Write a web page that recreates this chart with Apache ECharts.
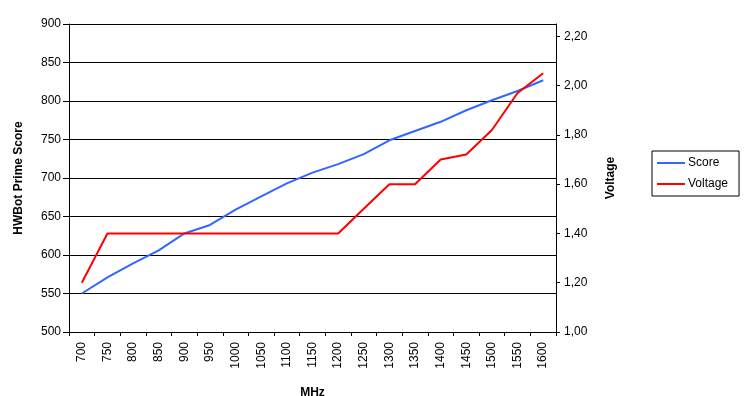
<!DOCTYPE html>
<html>
<head>
<meta charset="utf-8">
<script src="https://cdn.jsdelivr.net/npm/echarts@6/dist/echarts.min.js"></script>
<style>
html,body{margin:0;padding:0;background:#fff;}
#chart{width:745px;height:396px;}
</style>
</head>
<body>
<div id="chart"></div>
<script>
const categories = ['700','750','800','850','900','950','1000','1050','1100','1150','1200','1250','1300','1350','1400','1450','1500','1550','1600'];
const scoreValues = [550,571,589,606,628,639,659,676,693,707,718,731,749,761,773,788,801,813,827];
const voltageValues = [1.20,1.40,1.40,1.40,1.40,1.40,1.40,1.40,1.40,1.40,1.40,1.50,1.60,1.60,1.70,1.72,1.82,1.97,2.05];
const voltageTicks = [1.0,1.2,1.4,1.6,1.8,2.0,2.2];

const font = 'Liberation Sans, Arial, sans-serif';
const chart = echarts.init(document.getElementById('chart'), null, {renderer:'canvas'});
chart.setOption({
  animation:false,
  backgroundColor:'#fff',
  textStyle:{fontFamily:font},
  grid:{left:69, right:189, top:24, bottom:64, containLabel:false, outerBoundsMode:'none'},
  legend:{
    orient:'vertical', left:652, top:151,
    data:['Score','Voltage'],
    icon:'rect', itemWidth:28, itemHeight:2, itemGap:9,
    padding:[6,11,6,5],
    borderColor:'#000', borderWidth:1, backgroundColor:'#fff',
    textStyle:{fontFamily:font, fontSize:12, color:'#000', padding:[0,0,0,-2]}
  },
  xAxis:{
    type:'category', data:categories, boundaryGap:true,
    name:'MHz', nameLocation:'middle', nameGap:55,
    nameTextStyle:{fontFamily:font, fontSize:12, fontWeight:'bold', color:'#000'},
    axisLine:{lineStyle:{color:'#000', width:1}},
    axisTick:{show:true, alignWithLabel:false, length:4, lineStyle:{color:'#000'}},
    axisLabel:{rotate:90, interval:0, margin:10, fontSize:12, color:'#000', fontFamily:font},
    splitLine:{show:false}
  },
  yAxis:[{
    type:'value', min:500, max:900, interval:50, position:'left',
    name:'HWBot Prime Score', nameLocation:'middle', nameRotate:90, nameGap:44,
    nameTextStyle:{fontFamily:font, fontSize:12, fontWeight:'bold', color:'#000'},
    axisLine:{show:true, lineStyle:{color:'#000', width:1}},
    axisTick:{show:true, length:6, lineStyle:{color:'#000'}},
    axisLabel:{margin:8, fontSize:12, color:'#000', fontFamily:font},
    splitLine:{show:true, lineStyle:{color:'#000', width:1}}
  },{
    type:'value', min:1, max:2.25, position:'right',
    name:'Voltage', nameLocation:'middle', nameRotate:90, nameGap:49,
    nameTextStyle:{fontFamily:font, fontSize:12, fontWeight:'bold', color:'#000'},
    axisLine:{show:true, lineStyle:{color:'#000', width:1}},
    axisTick:{show:true, length:4, customValues:voltageTicks, lineStyle:{color:'#000'}},
    axisLabel:{margin:8, fontSize:12, color:'#000', fontFamily:font, customValues:voltageTicks,
      formatter:v=>v.toFixed(2).replace('.',',')},
    splitLine:{show:false}
  }],
  series:[{
    name:'Score', type:'line', yAxisIndex:0, data:scoreValues,
    showSymbol:false, symbol:'none', lineStyle:{color:'#3366FF', width:2}, itemStyle:{color:'#3366FF'}
  },{
    name:'Voltage', type:'line', yAxisIndex:1, data:voltageValues,
    showSymbol:false, symbol:'none', lineStyle:{color:'#FF0000', width:2}, itemStyle:{color:'#FF0000'}
  }]
});
</script>
</body>
</html>
